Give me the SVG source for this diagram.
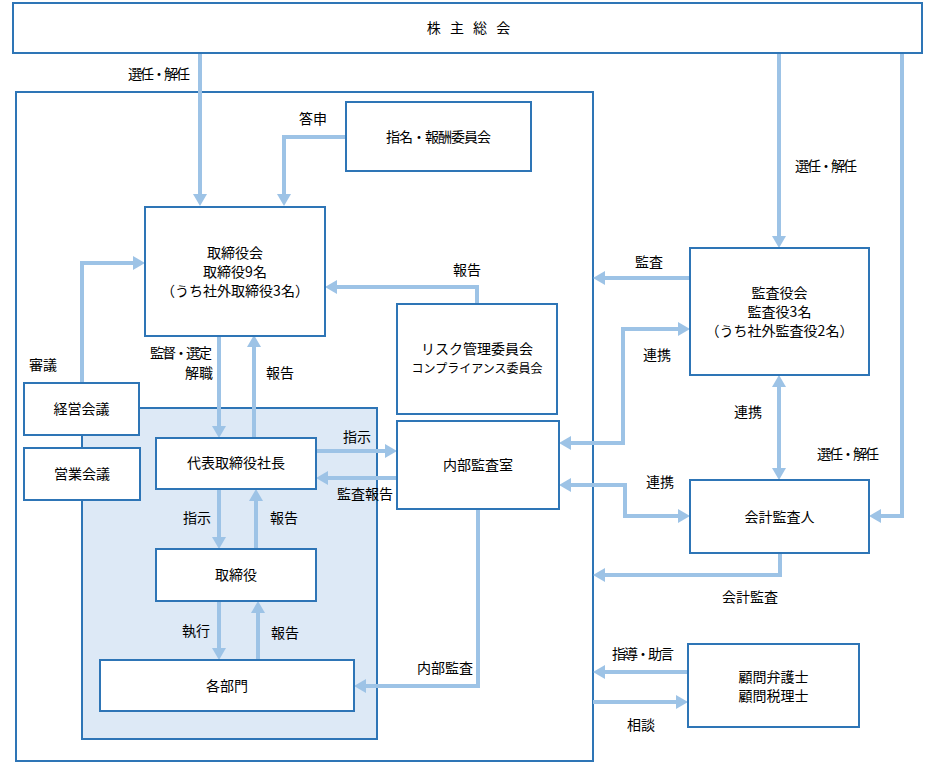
<svg xmlns="http://www.w3.org/2000/svg" width="935" height="765" viewBox="0 0 935 765">
<style>
.box{fill:#fff;stroke:#2e75b6;stroke-width:2}
.con{fill:none;stroke:#9dc3e6;stroke-width:4}
text{font-family:"Noto Sans CJK JP","Noto Sans CJK SC",sans-serif;font-size:14px;fill:#000;text-anchor:middle}
.sm{font-size:12px}
</style>
<defs>
<marker id="ah" markerWidth="14" markerHeight="14" refX="2" refY="7" orient="auto-start-reverse" markerUnits="userSpaceOnUse">
<path d="M0,0 L12,7 L0,14 z" fill="#9dc3e6"/>
</marker>
</defs>
<rect width="935" height="765" fill="#fff"/>
<g id="outer"><rect x="16" y="92" width="577" height="669" fill="none" stroke="#2e75b6" stroke-width="2"/></g>
<g id="exec-area"><rect x="82" y="408" width="295" height="331" fill="#dde9f6" stroke="#2e75b6" stroke-width="2"/></g>
<g id="connectors">
<path class="con" d="M200,53 V196" marker-end="url(#ah)"/>
<path class="con" d="M346,137 H284 V196" marker-end="url(#ah)"/>
<path class="con" d="M82,383 V263 H135" marker-end="url(#ah)"/>
<path class="con" d="M477,304 V287 H335" marker-end="url(#ah)"/>
<path class="con" d="M219,336 V428" marker-end="url(#ah)"/>
<path class="con" d="M254,438 V345" marker-end="url(#ah)"/>
<path class="con" d="M316,451 H387" marker-end="url(#ah)"/>
<path class="con" d="M397,478 H326" marker-end="url(#ah)"/>
<path class="con" d="M219,489 V539" marker-end="url(#ah)"/>
<path class="con" d="M256,549 V499" marker-end="url(#ah)"/>
<path class="con" d="M219,601 V650" marker-end="url(#ah)"/>
<path class="con" d="M258,660 V611" marker-end="url(#ah)"/>
<path class="con" d="M478,509 V686 H364" marker-end="url(#ah)"/>
<path class="con" d="M779,53 V238" marker-end="url(#ah)"/>
<path class="con" d="M690,278 H603" marker-end="url(#ah)"/>
<path class="con" d="M569,443 H623 V329 H680" marker-start="url(#ah)" marker-end="url(#ah)"/>
<path class="con" d="M569,485 H625 V516 H680" marker-start="url(#ah)" marker-end="url(#ah)"/>
<path class="con" d="M779,385 V470" marker-start="url(#ah)" marker-end="url(#ah)"/>
<path class="con" d="M902,53 V516 H879" marker-end="url(#ah)"/>
<path class="con" d="M780,553 V575 H603" marker-end="url(#ah)"/>
<path class="con" d="M688,672 H603" marker-end="url(#ah)"/>
<path class="con" d="M593,702 H678" marker-end="url(#ah)"/>
<text x="159" y="79" textLength="62" lengthAdjust="spacing">選任・解任</text>
<text x="313" y="124">答申</text>
<text x="467" y="275">報告</text>
<text x="212" y="358" style="text-anchor:end" textLength="62" lengthAdjust="spacing">監督・選定</text>
<text x="213" y="378" style="text-anchor:end">解職</text>
<text x="280" y="378">報告</text>
<text x="43" y="370">審議</text>
<text x="357" y="442">指示</text>
<text x="365" y="499">監査報告</text>
<text x="197" y="523">指示</text>
<text x="284" y="523">報告</text>
<text x="196" y="636">執行</text>
<text x="285" y="638">報告</text>
<text x="445" y="673">内部監査</text>
<text x="826" y="171" textLength="62" lengthAdjust="spacing">選任・解任</text>
<text x="649" y="267">監査</text>
<text x="657" y="360">連携</text>
<text x="748" y="417">連携</text>
<text x="848" y="459" textLength="62" lengthAdjust="spacing">選任・解任</text>
<text x="660" y="487">連携</text>
<text x="750" y="602">会計監査</text>
<text x="643" y="659" textLength="62" lengthAdjust="spacing">指導・助言</text>
<text x="641" y="730">相談</text>
</g>
<g id="agm"><rect class="box" x="13" y="3" width="909" height="50"/><text x="470" y="33" style="letter-spacing:3px">株 主 総 会</text></g>
<g id="nomination"><rect class="box" x="346" y="102" width="185" height="69"/><text x="438.5" y="142" textLength="105" lengthAdjust="spacing">指名・報酬委員会</text></g>
<g id="board"><rect class="box" x="145" y="207" width="180" height="129"/>
<text x="235" y="258">取締役会</text><text x="235" y="277">取締役9名</text><text x="235" y="296">（うち社外取締役3名）</text></g>
<g id="risk"><rect class="box" x="397" y="304" width="160" height="110"/>
<text x="477" y="354">リスク管理委員会</text><text class="sm" x="477" y="373">コンプライアンス委員会</text></g>
<g id="mgmt"><rect class="box" x="24" y="383" width="115" height="52"/><text x="81.5" y="414">経営会議</text></g>
<g id="sales"><rect class="box" x="24" y="448" width="116" height="52"/><text x="82" y="479">営業会議</text></g>
<g id="president"><rect class="box" x="156" y="438" width="160" height="51"/><text x="236" y="468">代表取締役社長</text></g>
<g id="internal-audit"><rect class="box" x="397" y="421" width="162" height="88"/><text x="478" y="470">内部監査室</text></g>
<g id="directors"><rect class="box" x="156" y="549" width="160" height="52"/><text x="236" y="580">取締役</text></g>
<g id="departments"><rect class="box" x="100" y="660" width="254" height="51"/><text x="227" y="691">各部門</text></g>
<g id="auditors"><rect class="box" x="690" y="248" width="179" height="127"/>
<text x="779.5" y="298">監査役会</text><text x="779.5" y="317">監査役3名</text><text x="779.5" y="336">（うち社外監査役2名）</text></g>
<g id="accounting-auditor"><rect class="box" x="690" y="480" width="179" height="73"/><text x="779.5" y="522">会計監査人</text></g>
<g id="advisors"><rect class="box" x="688" y="644" width="171" height="83"/>
<text x="773.5" y="682">顧問弁護士</text><text x="773.5" y="701">顧問税理士</text></g>
</svg>
